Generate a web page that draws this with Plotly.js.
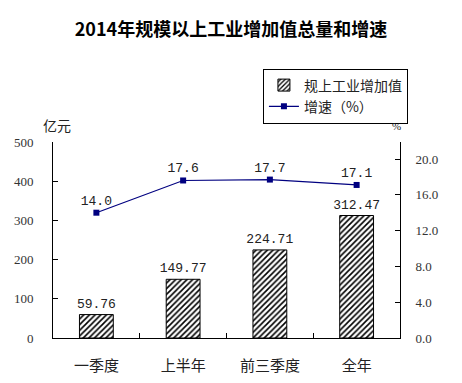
<!DOCTYPE html>
<html><head><meta charset="utf-8">
<script src="https://cdn.plot.ly/plotly-3.0.1.min.js"></script>
<style>html,body{margin:0;padding:0;background:#fff}#c{width:462px;height:383px}</style>
</head><body><div id="c"></div>
<script>
const categories = ["一季度", "上半年", "前三季度", "全年"];
const valueAdded = [59.76, 149.77, 224.71, 312.47];
const growth = [14.0, 17.6, 17.7, 17.1];
const leftTicks = [0, 100, 200, 300, 400, 500];
const rightTicks = [0, 4, 8, 12, 16, 20];

const numFont = "Liberation Serif, Noto Sans CJK SC, serif";
const labFont = "Liberation Mono, monospace";
const cjk = "Noto Sans CJK SC, sans-serif";

const traces = [
  {
    type: "bar", x: categories, y: valueAdded, name: "规上工业增加值",
    width: 0.39,
    marker: {color: "white", line: {color: "black", width: 1},
      pattern: {shape: "/", fgcolor: "black", bgcolor: "white", size: 4, solidity: 0.4}},
    text: valueAdded.map(v => v.toFixed(2)), textposition: "outside", constraintext: "none",
    textfont: {family: labFont, size: 13, color: "#222"}, cliponaxis: false
  },
  {
    type: "scatter", x: categories, y: growth, yaxis: "y2", name: "增速（%）",
    mode: "lines+markers+text",
    line: {color: "#000080", width: 1.2},
    marker: {symbol: "square", size: 6, color: "#000080"},
    text: growth.map(v => v.toFixed(1)), textposition: "top center",
    textfont: {family: labFont, size: 13, color: "#222"}, cliponaxis: false
  }
];

const layout = {
  width: 462, height: 383,
  margin: {l: 53, r: 62, t: 142, b: 45},
  paper_bgcolor: "white", plot_bgcolor: "white",
  showlegend: true,
  title: {text: "<b>2014年规模以上工业增加值总量和增速</b>", x: 0.5, xanchor: "center",
    y: 1 - 30/383, yanchor: "middle", yref: "container",
    font: {family: cjk, size: 18, color: "black"}},
  legend: {x: 0.605, y: 1.375, xanchor: "left", yanchor: "top",
    bordercolor: "black", borderwidth: 1, bgcolor: "white",
    font: {family: cjk, size: 14, color: "#222"}, traceorder: "normal",
    itemwidth: 30},
  xaxis: {type: "category", range: [-0.5, 3.5], showline: true, linecolor: "black", linewidth: 1,
    ticks: "inside", tickson: "boundaries", ticklen: 5, tickcolor: "black",
    showgrid: false, zeroline: false, fixedrange: true,
    tickfont: {family: cjk, size: 15, color: "#222"}, ticklabelstandoff: 14},
  yaxis: {range: [0, 500], tickvals: leftTicks, ticktext: leftTicks.map(String),
    showline: true, linecolor: "black", linewidth: 1, ticks: "inside", ticklen: 5, tickcolor: "black",
    showgrid: false, zeroline: false, ticklabelstandoff: 16,
    tickfont: {family: numFont, size: 13, color: "#333"}},
  yaxis2: {range: [0, 21.9], overlaying: "y", side: "right", tickvals: rightTicks,
    ticktext: rightTicks.map(v => v.toFixed(1)),
    showline: true, linecolor: "black", linewidth: 1, ticks: "inside", ticklen: 5, tickcolor: "black",
    showgrid: false, zeroline: false, ticklabelstandoff: 12,
    tickfont: {family: numFont, size: 13, color: "#333"}},
  annotations: [
    {text: "亿元", xref: "paper", yref: "paper", x: 0.012, y: 1.085, xanchor: "center", yanchor: "middle",
      showarrow: false, font: {family: cjk, size: 14, color: "#222"}},
    {text: "%", xref: "paper", yref: "paper", x: 0.99, y: 1.08, xanchor: "center", yanchor: "middle",
      showarrow: false, font: {family: numFont, size: 11, color: "#222"}}
  ]
};

Plotly.newPlot("c", traces, layout, {displayModeBar: false, staticPlot: true});
</script></body></html>
